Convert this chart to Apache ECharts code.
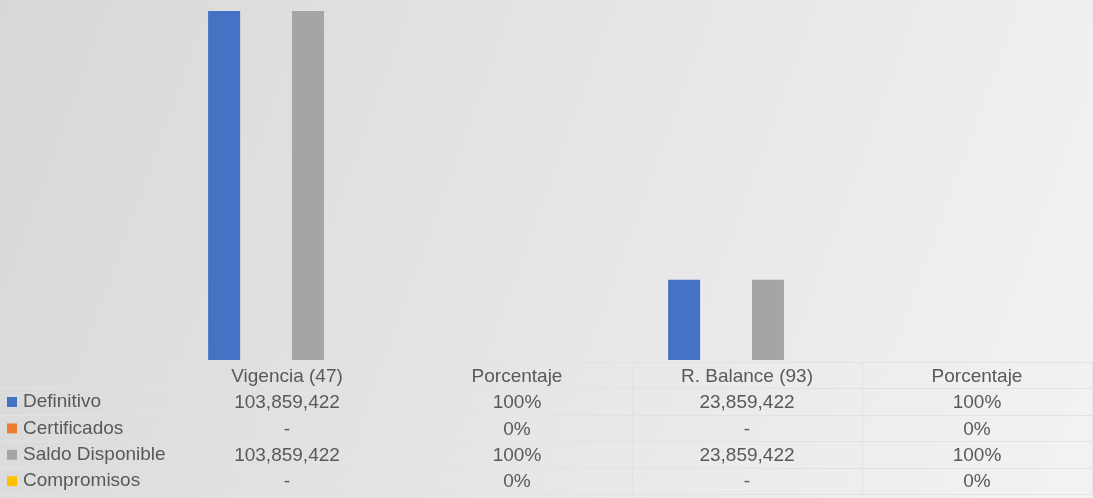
<!DOCTYPE html>
<html>
<head>
<meta charset="utf-8">
<script src="https://cdn.jsdelivr.net/npm/echarts@6/dist/echarts.min.js"></script>
<style>
  html, body { margin: 0; padding: 0; }
  #chart { width: 1093px; height: 498px; }
</style>
</head>
<body>
<div id="chart"></div>
<script>
// columnas de la tabla
var categories = ['Vigencia (47)', 'Porcentaje', 'R. Balance (93)', 'Porcentaje'];
var isPct = [false, true, false, true];

// series (porcentaje guardado como fraccion)
var seriesNames = ['Definitivo', 'Certificados', 'Saldo Disponible', 'Compromisos'];
var definitivo = [103859422, 1, 23859422, 1];
var certificados = [0, 0, 0, 0];
var saldoDisponible = [103859422, 1, 23859422, 1];
var compromisos = [0, 0, 0, 0];
var colors = ['#4472c4', '#ed7d31', '#a5a5a5', '#ffc000'];

var allData = [definitivo, certificados, saldoDisponible, compromisos];

function fmt(v, i) {
  if (isPct[i]) return Math.round(v * 100) + '%';
  if (v === 0) return '-';
  return v.toLocaleString('en-US');
}

var textColor = '#595959';
var font = 'Liberation Sans, Arial, sans-serif';
var fontSize = 19;
var rowH = 26.4;

var myChart = echarts.init(document.getElementById('chart'));

// un eje x por fila de la tabla
var xAxes = [{
  type: 'category',
  data: categories,
  position: 'bottom',
  axisLine: { show: false },
  axisTick: { show: false },
  axisLabel: { interval: 0, margin: 7, color: textColor, fontSize: fontSize, fontFamily: font }
}];
allData.forEach(function (arr, k) {
  xAxes.push({
    type: 'category',
    gridIndex: 0,
    position: 'bottom',
    offset: rowH * (k + 1),
    data: arr.map(fmt),
    axisLine: { show: false },
    axisTick: { show: false },
    axisLabel: { interval: 0, margin: 7, color: textColor, fontSize: fontSize, fontFamily: font }
  });
});

// lineas de la tabla
var lineColor = '#e2e2e2';
var graphics = [];
var tTop = 362, tLeft = 172, tRight = 1092;
for (var r = 0; r <= 5; r++) {
  var y = Math.round(tTop + r * rowH) + 0.5;
  graphics.push({
    type: 'line',
    shape: { x1: r === 0 ? tLeft : 0, y1: y, x2: tRight, y2: y },
    style: { stroke: lineColor, lineWidth: 1 }
  });
}
for (var c = 0; c <= 4; c++) {
  var x = tLeft + c * 230 + 0.5;
  graphics.push({
    type: 'line',
    shape: { x1: x, y1: tTop, x2: x, y2: Math.round(tTop + 5 * rowH) },
    style: { stroke: lineColor, lineWidth: 1 }
  });
}

var option = {
  animation: false,
  backgroundColor: {
    type: 'linear', x: 0, y: 0, x2: 1, y2: 0.8,
    colorStops: [
      { offset: 0, color: '#d8d8d8' },
      { offset: 1, color: '#f2f2f2' }
    ]
  },
  color: colors,
  legend: {
    orient: 'vertical',
    left: 7,
    top: 392,
    bottom: 0,
    padding: 0,
    itemWidth: 10,
    itemHeight: 10,
    itemGap: rowH - 20,
    icon: 'rect',
    selectedMode: false,
    textStyle: { color: textColor, fontSize: fontSize, fontFamily: font, lineHeight: 20, padding: [0, 0, 0, 1] },
    data: seriesNames
  },
  grid: { left: 172, right: 1, top: 11, bottom: 138 },
  xAxis: xAxes,
  yAxis: { type: 'value', min: 0, max: 'dataMax', show: false, splitLine: { show: false } },
  graphic: graphics,
  series: allData.map(function (arr, k) {
    return {
      name: seriesNames[k],
      type: 'bar',
      barWidth: 32,
      barGap: '31%',
      xAxisIndex: 0,
      data: arr
    };
  })
};

myChart.setOption(option);
</script>
</body>
</html>
